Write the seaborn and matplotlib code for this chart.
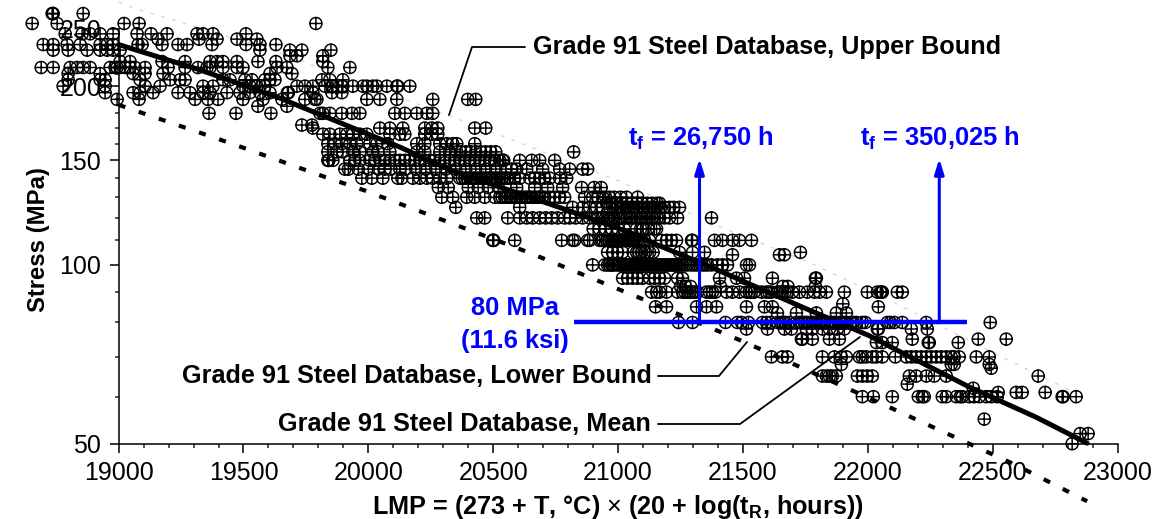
import matplotlib
matplotlib.use('Agg')
import matplotlib.pyplot as plt
import pandas as pd
import seaborn as sns
from matplotlib.lines import Line2D
from matplotlib.path import Path
from matplotlib.ticker import FixedLocator, NullFormatter, ScalarFormatter

# creep rupture points, one list of LMP values per stress level (MPa)
lmp_50 = [22818]
lmp_52 = [22850, 22882]
lmp_55 = [22466]
lmp_60 = [21978, 22022, 22098, 22202, 22218, 22226, 22298, 22314, 22354, 22370, 22378, 22406, 22426, 22446,
          22474, 22494, 22518, 22778, 22782, 22834]
lmp_61 = [22522, 22594, 22618, 22710]
lmp_62 = [22422]
lmp_63 = [22158]
lmp_65 = [21818, 21834, 21846, 21858, 21874, 21958, 21978, 21998, 22018, 22166, 22194, 22234, 22266, 22314, 22682]
lmp_67 = [22494]
lmp_68 = [21894, 22334, 22346, 22486]
lmp_70 = [21614, 21658, 21678, 21818, 21866, 21894, 21914, 21966, 21978, 21994, 22018, 22034, 22058, 22110, 22154,
          22174, 22194, 22214, 22234, 22254, 22274, 22294, 22314, 22334, 22346, 22366, 22434, 22486]
lmp_74 = [22034, 22058, 22098, 22242, 22246, 22362]
lmp_75 = [21734, 21736, 21738, 21778, 21846, 21886, 22178, 22442, 22554]
lmp_78 = [21514, 21598, 21666, 21694, 21754, 21778, 21818, 21846, 21878, 21906, 22038, 22042, 22174, 22238]
lmp_80 = [21242, 21298, 21430, 21478, 21494, 21522, 21578, 21594, 21610, 21638, 21686, 21714, 21746, 21778, 21806,
          21838, 21862, 21886, 21906, 21930, 21954, 21978, 21990, 22078, 22090, 22106, 22138, 22234, 22490,
          21650, 21660, 21670, 21725, 21735, 21755, 21765, 21790, 21815, 21825, 21850, 21870, 21895, 21915, 21940]
lmp_83 = [21638, 21714, 21794, 21874, 21914]
lmp_85 = [21150, 21194, 21314, 21354, 21394, 21514, 21586, 21618, 22042]
lmp_86 = [21900]
lmp_90 = [21134, 21154, 21166, 21194, 21238, 21258, 21278, 21298, 21318, 21354, 21378, 21434, 21458, 21486, 21514,
          21534, 21574, 21594, 21614, 21638, 21658, 21678, 21698, 21726, 21758, 21786, 21806, 21834, 21906, 21998,
          22038, 22050, 22054, 22058, 22118, 22138, 21268, 21288, 21308, 21366, 21390, 21525, 21545, 21604, 21648, 21668]
lmp_92 = [21250, 21270, 21290, 21410, 21660, 21680, 21790]
lmp_95 = [21018, 21038, 21058, 21078, 21098, 21126, 21146, 21166, 21186, 21238, 21258, 21406, 21474, 21506, 21618,
          21790, 21794]
lmp_100 = [20898, 20946, 20958, 20974, 20978, 20998, 21014, 21026, 21038, 21054, 21066, 21078, 21094, 21106, 21118,
           21134, 21146, 21158, 21174, 21186, 21198, 21214, 21226, 21238, 21254, 21266, 21278, 21294, 21306, 21318,
           21334, 21346, 21358, 21374, 21398, 21418, 21438, 21514, 21526, 20965, 20985, 21005, 21020, 21032, 21046,
           21060, 21072, 21086, 21100, 21112, 21126, 21140, 21152, 21166, 21180, 21192, 21206, 21220, 21232, 21246]
lmp_104 = [21458, 21646, 21666]
lmp_105 = [20958, 20978, 20998, 21018, 21074, 21094, 21126, 21246, 21298, 21346, 21730, 21060, 21084, 21110, 21140]
lmp_110 = [20498, 20500, 20502, 20586, 20774, 20818, 20886, 20934, 20826, 20878, 20926, 20954, 20974, 20986, 20998,
           21014, 21026, 21038, 21054, 21066, 21086, 21106, 21126, 21174, 21194, 21214, 21234, 21294, 21298, 21386,
           21418, 21458, 21486, 21534, 20940, 20965, 20980, 20992, 21006, 21020, 21032, 21046, 21060, 21076, 21096]
lmp_115 = [20900, 20925, 20950, 20975, 21000, 21025, 21074, 21090, 21100, 21120, 21145, 21154]
lmp_120 = [20434, 20466, 20558, 20606, 20634, 20658, 20686, 20710, 20734, 20758, 20786, 20806, 20830, 20858, 20886,
           20914, 20938, 20958, 20974, 20998, 21014, 21046, 21054, 21066, 21086, 21106, 21126, 21146, 21166, 21186,
           21206, 21238, 21374, 20920, 20950, 20966, 20985, 21005, 21025, 21036, 21076, 21096, 21116, 21136, 21156]
lmp_125 = [20350, 20606, 20818, 20858, 20886, 20914, 20938, 20966, 20994, 21018, 21046, 21086, 21126, 21154, 21206,
           21246, 21000, 21010, 21030, 21060, 21075, 21100, 21115, 21140, 21170, 21186, 21222]
lmp_127 = [20954, 20975, 20996, 21016, 21036, 21056, 21076, 21096, 21116, 21136, 21156, 21166]
lmp_130 = [20294, 20338, 20394, 20426, 20466, 20506, 20526, 20546, 20566, 20586, 20606, 20626, 20646, 20666, 20686,
           20706, 20726, 20746, 20766, 20786, 20866, 20898, 20918, 20938, 20966, 21034, 21078, 20536, 20556, 20576,
           20596, 20616, 20636, 20656, 20676, 20696, 20950, 20985, 21010]
lmp_135 = [20594, 20666, 20718, 20778, 20854, 20904, 20932, 20280, 20320, 20400, 20440, 20480, 20520]
lmp_140 = [19974, 20014, 20058, 20118, 20134, 20178, 20206, 20234, 20258, 20286, 20314, 20366, 20386, 20406, 20426,
           20446, 20466, 20486, 20506, 20526, 20546, 20566, 20586, 20606, 20646, 20666, 20686, 20706, 20726, 20766, 20794,
           20376, 20396, 20416, 20436, 20456, 20476, 20496, 20516, 20536, 20556]
lmp_145 = [19906, 19920, 20066, 20126, 20594, 20634, 20698, 20766, 20806, 20858, 20878, 19960, 20000, 20040, 20090,
           20150, 20190, 20230, 20270, 20310, 20350, 20390, 20430, 20470, 20510, 20550, 20574]
lmp_150 = [19838, 19840, 19842, 19858, 19926, 19946, 19966, 20006, 20026, 20046, 20066, 20086, 20106, 20126, 20146,
           20166, 20186, 20206, 20226, 20246, 20266, 20286, 20306, 20326, 20346, 20366, 20386, 20406, 20426, 20446,
           20466, 20486, 20506, 20526, 20606, 20654, 20746, 20538, 20540, 20542, 20686]
lmp_155 = [19838, 19874, 19898, 19938, 19966, 20018, 20038, 20086, 20194, 20226, 20286, 20326, 20354, 20822, 20370,
           20390, 20410, 20430, 20450, 20470, 20490, 20510]
lmp_160 = [19838, 19866, 19894, 19926, 19954, 20006, 20034, 20078, 20194, 20226, 20286, 20314, 20338, 20354, 20426]
lmp_166 = [19818, 19846, 19886, 19914, 19938, 19966, 19994, 20086, 20126, 20146, 20226, 20254, 20278]
lmp_170 = [19778, 20046, 20086, 20138, 20226, 20254, 20278, 20426, 20470]
lmp_172 = [19734, 19774]
lmp_180 = [19362, 19470, 19610, 19818, 19846, 19894, 19806, 19934, 19966, 20106, 20146, 20194, 20234, 20258]
lmp_185 = [19558, 19674]
lmp_190 = [18994, 19082, 19306, 19358, 19398, 19498, 19578, 19654, 19746, 19794, 19786, 19994, 20046, 20114, 20258,
           20398, 20430]
lmp_195 = [18946, 19058, 19086, 19138, 19238, 19286, 19338, 19366, 19434, 19486, 19526, 19566, 19606, 19676, 19678,
           19680, 19778, 19854, 19894]
lmp_200 = [18778, 18946, 19106, 19166, 19338, 19378, 19498, 19526, 19554, 19586, 19714, 19746, 19778, 19854, 19894,
           19858, 19898, 19938, 19994, 20034, 20074, 20114, 19826, 19978, 20018, 20118, 20166]
lmp_205 = [18798, 18926, 18946, 19086, 19206, 19246, 19266, 19418, 19446, 19506, 19534, 19586, 19606, 19626, 19814,
           19846, 19898]
lmp_210 = [18798, 18926, 19058, 19106, 19178, 19606, 19694]
lmp_215 = [18690, 18738, 18806, 18834, 18858, 18886, 18966, 18994, 18986, 19006, 19026, 19046, 19066, 19106, 19198,
           19266, 19318, 19354, 19366, 19418, 19474, 19498, 19634, 19674, 19838, 19926]
lmp_220 = [19006, 19046, 19174, 19266, 19366, 19394, 19418, 19474, 19558, 19630, 19818]
lmp_225 = [19686, 19714, 19818]
lmp_230 = [18738, 18798, 18874, 18926, 18954, 18978, 19006, 19566, 19686, 19734, 19850]
lmp_235 = [18698, 18738, 18794, 18846, 18926, 18954, 18978, 19078, 19094, 19174, 19238, 19274, 19374, 19510, 19566,
           19630]
lmp_240 = [19158, 19322, 19394, 19474, 19554]
lmp_245 = [18786, 18854, 18886, 18926, 18978, 19074, 19130, 19194, 19314, 19338, 19378, 19510]
lmp_255 = [18654, 18754, 19022, 19082, 19790]
lmp_265 = [18734, 18736, 18738, 18858]

rows = [(50, lmp_50), (52, lmp_52), (55, lmp_55), (60, lmp_60), (61, lmp_61), (62, lmp_62), (63, lmp_63), (65, lmp_65),
        (67, lmp_67), (68, lmp_68), (70, lmp_70), (74, lmp_74), (75, lmp_75), (78, lmp_78), (80, lmp_80), (83, lmp_83),
        (85, lmp_85), (86, lmp_86), (90, lmp_90), (92, lmp_92), (95, lmp_95), (100, lmp_100), (104, lmp_104),
        (105, lmp_105), (110, lmp_110), (115, lmp_115), (120, lmp_120), (125, lmp_125), (127, lmp_127), (130, lmp_130),
        (135, lmp_135), (140, lmp_140), (145, lmp_145), (150, lmp_150), (155, lmp_155), (160, lmp_160), (166, lmp_166),
        (170, lmp_170), (172, lmp_172), (180, lmp_180), (185, lmp_185), (190, lmp_190), (195, lmp_195), (200, lmp_200),
        (205, lmp_205), (210, lmp_210), (215, lmp_215), (220, lmp_220), (225, lmp_225), (230, lmp_230), (235, lmp_235),
        (240, lmp_240), (245, lmp_245), (255, lmp_255), (265, lmp_265)]

# fitted curves
mean_lmp = [19000, 19326, 19646, 19725, 20125, 20326, 20794, 21058, 21138, 21378, 21738, 22006, 22138, 22406, 22674, 22878]
mean_stress = [235, 213, 191, 185, 158, 144.6, 123.8, 113, 108.9, 98.9, 84.9, 76, 71.1, 62.3, 55.4, 50.1]
lower_lmp = [19000, 19454, 19825, 19978, 20646, 21078, 21514, 22086, 22594, 22878]
lower_stress = [186, 160, 140.7, 133.8, 104.8, 88.3, 73.9, 57.6, 46, 40]
upper_lmp = [19000, 19058, 19618, 20366, 20994, 21406, 21766, 22114, 22566, 22806]
upper_stress = [277, 271, 230, 175.5, 139, 116, 101, 86, 69, 61.6]

# 80 MPa construction
design_stress = 80
design_span = [20822, 22398]
rupture_lmp = [21326, 22286]
arrow_top = 151

x_major = [19000, 19500, 20000, 20500, 21000, 21500, 22000, 22500, 23000]
x_minor = list(range(19000, 23001, 100))
y_major = [50, 100, 150, 200, 250]
y_minor = list(range(60, 250, 10))

W, H = 1171, 519
BLUE = '#0000ff'

sns.set_style('ticks')
plt.rcParams['font.family'] = ['Liberation Sans']
plt.rcParams['mathtext.fontset'] = 'custom'
plt.rcParams['mathtext.rm'] = 'Liberation Sans'
plt.rcParams['mathtext.bf'] = 'Liberation Sans:bold'

df = pd.DataFrame([(x, s) for s, xs in rows for x in xs], columns=['lmp', 'stress'])

fig = plt.figure(figsize=(W / 100, H / 100), dpi=100)
ax = fig.add_axes([118.6 / W, 1 - 443.7 / H, 999 / W, 415.1 / H])
ax.set_axisbelow(True)


def fx(x):
    return x / W


def fy(y):
    return 1 - y / H


circle_plus = Path.make_compound_path(Path.unit_circle(), Path([[-1, 0], [1, 0]]), Path([[0, -1], [0, 1]]))

sns.lineplot(x=upper_lmp, y=upper_stress, ax=ax, color='#d4d4d4', lw=0.9, dashes=(3, 6), errorbar=None, sort=False,
             clip_on=False, zorder=1)
sns.scatterplot(data=df, x='lmp', y='stress', ax=ax, marker=circle_plus, s=76, facecolor='none', edgecolor='black',
                linewidth=1.05, clip_on=False, zorder=2)
sns.lineplot(x=mean_lmp, y=mean_stress, ax=ax, color='black', lw=3.6, errorbar=None, sort=False, clip_on=False, zorder=3)
line = sns.lineplot(x=lower_lmp, y=lower_stress, ax=ax, color='black', lw=3.0, errorbar=None, sort=False,
                    clip_on=False, zorder=3).lines[-1]
line.set_linestyle((0, (1.7, 3.4)))
line.set_dash_capstyle('butt')

ax.hlines(design_stress, design_span[0], design_span[1], color=BLUE, lw=3.2, zorder=4)
for x in rupture_lmp:
    ax.annotate('', xy=(x, arrow_top), xytext=(x, design_stress), zorder=4,
                arrowprops=dict(arrowstyle='-|>,head_length=0.9,head_width=0.28', color=BLUE, lw=2.2,
                                shrinkA=0, shrinkB=0))

ax.set_xscale('linear')
ax.set_yscale('log')
ax.set_xlim(19000, 23000)
ax.set_ylim(50, 250)
ax.xaxis.set_major_locator(FixedLocator(x_major))
ax.xaxis.set_minor_locator(FixedLocator(x_minor))
ax.yaxis.set_major_locator(FixedLocator(y_major))
ax.yaxis.set_minor_locator(FixedLocator(y_minor))
ax.yaxis.set_major_formatter(ScalarFormatter())
ax.yaxis.set_minor_formatter(NullFormatter())
ax.tick_params(which='major', length=6.5, width=1.1, labelsize=18, pad=6, color='black', labelcolor='black')
ax.tick_params(which='minor', length=3, width=1.1)
sns.despine(ax=ax)
for side in ['left', 'bottom']:
    ax.spines[side].set_linewidth(1.1)
    ax.spines[side].set_color('black')
ax.set_xlabel('')
ax.set_ylabel('')

bold = dict(fontweight='bold', fontsize=18.2, color='black')
fig.text(fx(38), fy(240), 'Stress (MPa)', rotation=90, ha='center', va='center', fontweight='bold', fontsize=17.2,
         color='black')
fig.text(fx(618), fy(507), r'LMP = (273 + T, °C) $\times$ (20 + log(t$_{\mathbf{R}}$, hours))', ha='center',
         va='center', **bold)
fig.text(fx(533), fy(47), 'Grade 91 Steel Database, Upper Bound', ha='left', va='center', **bold)
fig.text(fx(652), fy(376), 'Grade 91 Steel Database, Lower Bound', ha='right', va='center', **bold)
fig.text(fx(651), fy(424), 'Grade 91 Steel Database, Mean', ha='right', va='center', **bold)

blue = dict(fontweight='bold', fontsize=18.4, color=BLUE, ha='center', va='center')
fig.text(fx(701), fy(138), r't$_{\mathbf{f}}$ = 26,750 h', **blue)
fig.text(fx(940), fy(138), r't$_{\mathbf{f}}$ = 350,025 h', **blue)
fig.text(fx(515), fy(308), '80 MPa', **blue)
fig.text(fx(515), fy(341), '(11.6 ksi)', **blue)

leaders = [([525, 472, 449], [47, 47, 115]), ([658, 719, 747], [376, 376, 342]), ([658, 740, 860], [424, 424, 337])]
for xs, ys in leaders:
    fig.add_artist(Line2D([fx(v) for v in xs], [fy(v) for v in ys], color='black', lw=1.3))

fig.savefig('out.png', dpi=100)
